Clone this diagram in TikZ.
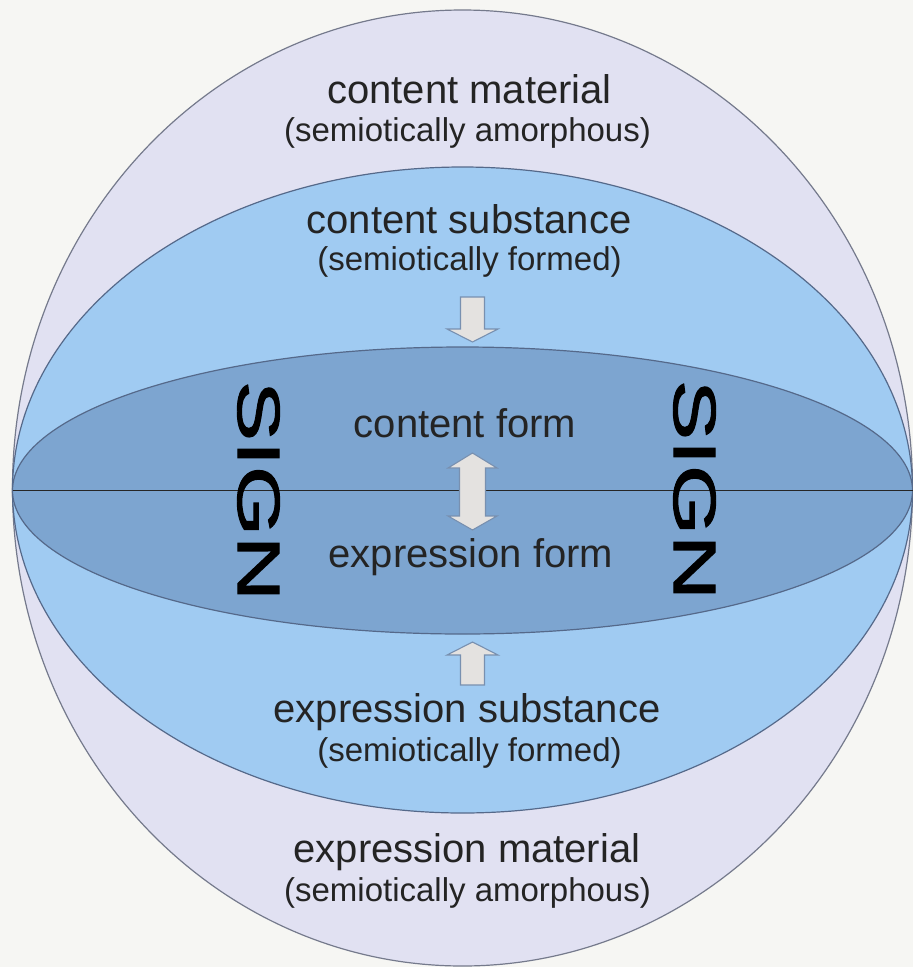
\documentclass[tikz,border=0pt]{standalone}
\usepackage{fontspec}
\setmainfont{Liberation Sans}
\newfontfamily\signfont[FakeBold=1.6]{Liberation Sans}
\definecolor{bgc}{HTML}{F6F6F3}
\definecolor{outerc}{HTML}{E1E1F2}
\definecolor{midc}{HTML}{A0CBF2}
\definecolor{innerc}{HTML}{7DA5D0}
\definecolor{edgec}{HTML}{55698A}
\definecolor{outedge}{HTML}{757A8C}
\definecolor{txtc}{HTML}{242424}
\definecolor{arrfill}{HTML}{E4E2E0}
\definecolor{arredge}{HTML}{7890B0}
\tikzset{
  mainlbl/.style={anchor=base, inner sep=0pt, text=txtc, font=\fontsize{40}{48}\selectfont},
  sublbl/.style={anchor=base, inner sep=0pt, text=txtc, font=\fontsize{33}{40}\selectfont},
  signlbl/.style={anchor=center, inner sep=0pt, text=black, rotate=-90, font=\signfont\fontsize{60}{72}\selectfont},
  layer/.style={draw=edgec, line width=1.2pt},
  blockarrow/.style={fill=arrfill, draw=arredge, line width=1.1pt, line join=miter}
}
\begin{document}
\begin{tikzpicture}[x=1pt,y=-1pt]
\fill[bgc] (0,0) rectangle (913,967);
\useasboundingbox (0,0) rectangle (913,967);
% layers
\draw[layer, fill=outerc, draw=outedge] (462.5,488) ellipse [x radius=450, y radius=478];
\draw[layer, fill=midc] (462.5,490) ellipse [x radius=450, y radius=323];
\draw[layer, fill=innerc] (462.5,490.5) ellipse [x radius=450, y radius=143.5];
\coordinate (eqL) at (12.5,490.5);
\coordinate (eqR) at (913,490.5);
\draw[black!85, line width=1.2pt] (eqL) -- (eqR);
% labels
\node[mainlbl] (cmat) at (469.5,103) {content material};
\node[sublbl] (cmats) at (467.5,141) {(semiotically amorphous)};
\node[mainlbl] (csub) at (469,233) {content substance};
\node[sublbl] (csubs) at (469.5,270) {(semiotically formed)};
\node[mainlbl] (cform) at (465,437) {content form};
\node[mainlbl] (eform) at (471,567) {expression form};
\node[mainlbl] (esub) at (467,722) {expression substance};
\node[sublbl] (esubs) at (469.5,761) {(semiotically formed)};
\node[mainlbl] (emat) at (467,862) {expression material};
\node[sublbl] (emats) at (467.5,901) {(semiotically amorphous)};
\node[signlbl] (signL) at (258.5,491) {\scalebox{1.5}[1]{SIGN}};
\node[signlbl] (signR) at (694.5,490) {\scalebox{1.5}[1]{SIGN}};
% block arrows
\draw[blockarrow] (460.5,297) -- (484.5,297) -- (484.5,329) -- (498,329) -- (472.5,342) -- (447,329) -- (460.5,329) -- cycle;
\draw[blockarrow] (472.5,453) -- (497,468) -- (485.5,468) -- (485.5,516) -- (497,516) -- (472.5,530) -- (448,516) -- (459.5,516) -- (459.5,468) -- (448,468) -- cycle;
\draw[blockarrow] (472.5,642) -- (498,655) -- (484.5,655) -- (484.5,685) -- (460.5,685) -- (460.5,655) -- (447,655) -- cycle;
\end{tikzpicture}
\end{document}
